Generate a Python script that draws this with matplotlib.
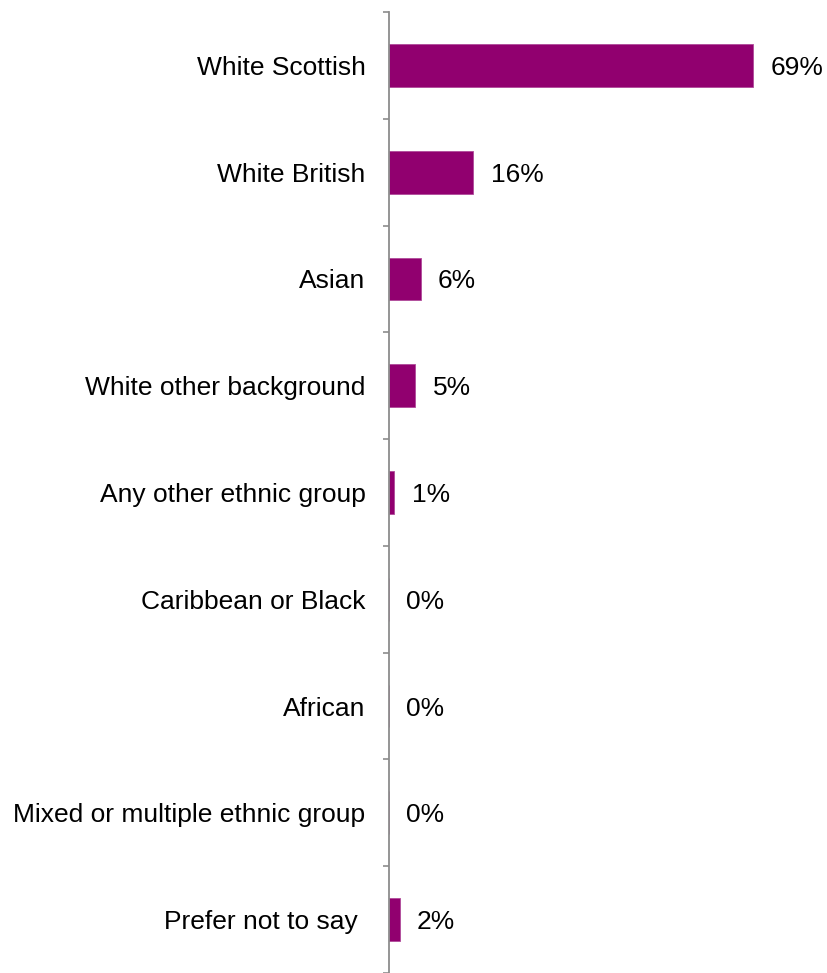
import matplotlib.pyplot as plt
import numpy as np

plt.rcParams['font.family'] = ['Liberation Sans', 'DejaVu Sans']

categories = ['White Scottish', 'White British', 'Asian', 'White other background',
              'Any other ethnic group', 'Caribbean or Black', 'African',
              'Mixed or multiple ethnic group', 'Prefer not to say ']
values = [69, 16, 6, 5, 1, 0, 0, 0, 2]
value_labels = ['69%', '16%', '6%', '5%', '1%', '0%', '0%', '0%', '2%']

bar_color = '#91006F'
axis_gray = '#8C8C8C'

fig = plt.figure(figsize=(8.27, 9.73), dpi=100)
# axes: left edge at the category axis line, top at first tick
ax = fig.add_axes([389 / 827, 0, 1 - 389 / 827, 1 - 12 / 973])

y = np.arange(len(categories))
ax.barh(y, values, height=0.4, color=bar_color, edgecolor='#B04A9A', linewidth=0.6)

for yi, v, lab in zip(y, values, value_labels):
    ax.annotate(lab, xy=(v, yi), xytext=(12.5, 0), textcoords='offset points',
                ha='left', va='center_baseline', fontsize=19, color='black')

ax.set_xlim(0, 438 / 5.28)
ax.set_ylim(-0.5 + (973 - 12) / 107, -0.5)

ax.set_yticks(y)
ax.set_yticklabels(categories, fontsize=19)
ax.tick_params(axis='y', which='major', length=0, pad=17)
ax.set_yticks(np.arange(len(categories) + 1) - 0.5, minor=True)
ax.tick_params(axis='y', which='minor', length=4.5, width=1.2, color=axis_gray)

ax.set_xticks([])
for side in ['top', 'right', 'bottom']:
    ax.spines[side].set_visible(False)
ax.spines['left'].set_color(axis_gray)
ax.spines['left'].set_linewidth(1.3)

fig.savefig('out.png', dpi=100)
